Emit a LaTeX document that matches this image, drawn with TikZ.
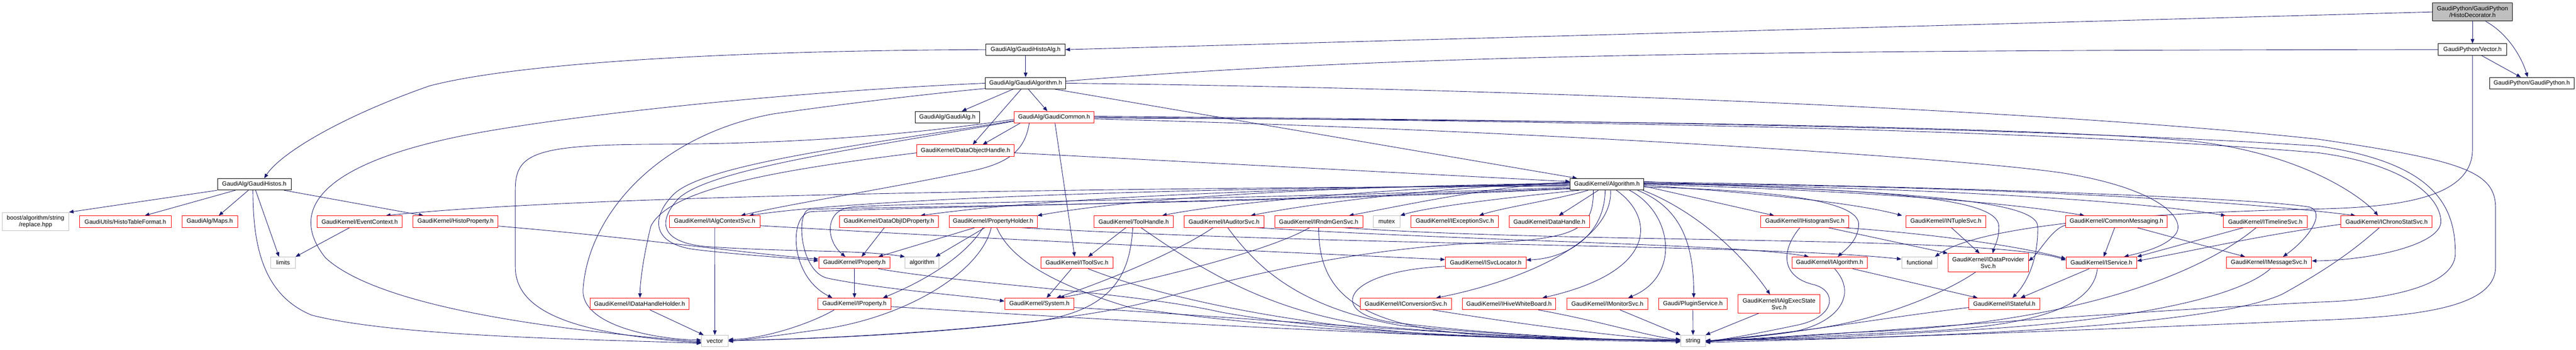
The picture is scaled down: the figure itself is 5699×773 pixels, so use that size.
\documentclass[tikz,border=0pt]{standalone}
\usepackage{fontspec}
\setmainfont{Liberation Sans}
\usetikzlibrary{arrows.meta}
\definecolor{eblue}{HTML}{191970}
\definecolor{gborder}{HTML}{BFBFBF}
\pgfdeclarelayer{bg}
\pgfsetlayers{bg,main}
\tikzset{
  base/.style={draw, line width=1.1pt, fill=white, inner sep=0pt, minimum height=25.5pt,
    font=\fontsize{13.3}{14.5}\selectfont, align=center, text=black},
  nb/.style={base, draw=black},
  nr/.style={base, draw=red},
  ng/.style={base, draw=gborder},
  nroot/.style={base, draw=black, fill=gborder},
  wd/.style={minimum width=#1pt},
  tall/.style={minimum height=40.5pt},
  lnk/.style={draw=eblue, line width=1pt, -{Triangle[length=10pt,width=8pt]}}
}
\begin{document}
\begin{tikzpicture}[x=1pt,y=-1pt]
\useasboundingbox (0,0) rectangle (5699,773);
% row 0-5
\node[nroot,wd=177,tall] (HD) at (5470,26.4) {GaudiPython/GaudiPython\\/HistoDecorator.h};
\node[nb,wd=175] (GHA) at (2269,109.7) {GaudiAlg/GaudiHistoAlg.h};
\node[nb,wd=151] (VEC) at (5470,109.5) {GaudiPython/Vector.h};
\node[nb,wd=178] (GALGM) at (2269,184) {GaudiAlg/GaudiAlgorithm.h};
\node[nb,wd=187] (GPY) at (5601,184) {GaudiPython/GaudiPython.h};
\node[nb,wd=143] (GALG) at (2096,259) {GaudiAlg/GaudiAlg.h};
\node[nr,wd=177] (GCOM) at (2332,259) {GaudiAlg/GaudiCommon.h};
\node[nr,wd=215] (DOH) at (2136,333) {GaudiKernel/DataObjectHandle.h};
\node[nb,wd=163] (GHIS) at (562.5,407.5) {GaudiAlg/GaudiHistos.h};
\node[nb,wd=162.5] (ALGO) at (3555,407.5) {GaudiKernel/Algorithm.h};
% row 6
\node[ng,wd=147,tall] (REPL) at (78.6,490) {boost/algorithm/string\\/replace.hpp};
\node[nr,wd=203] (HTF) at (277.3,490) {GaudiUtils/HistoTableFormat.h};
\node[nr,wd=123] (MAPS) at (464,490) {GaudiAlg/Maps.h};
\node[nr,wd=188.7] (EVC) at (795.7,490) {GaudiKernel/EventContext.h};
\node[nr,wd=188.4] (HPROP) at (1007.8,490) {GaudiKernel/HistoProperty.h};
\node[nr,wd=200.7] (IACS) at (1581.1,490) {GaudiKernel/IAlgContextSvc.h};
\node[nr,wd=219.3] (DOIDP) at (1966.5,490) {GaudiKernel/DataObjIDProperty.h};
\node[nr,wd=195] (PH) at (2197,490) {GaudiKernel/PropertyHolder.h};
\node[nr,wd=175] (TH) at (2508,490) {GaudiKernel/ToolHandle.h};
\node[nr,wd=177] (IAUD) at (2708,490) {GaudiKernel/IAuditorSvc.h};
\node[nr,wd=194.7] (IRND) at (2917.4,490) {GaudiKernel/IRndmGenSvc.h};
\node[ng,wd=59] (MUTEX) at (3067.8,490) {mutex};
\node[nr,wd=194.2] (IEXC) at (3218.4,490) {GaudiKernel/IExceptionSvc.h};
\node[nr,wd=177.3] (DH) at (3427.7,490) {GaudiKernel/DataHandle.h};
\node[nr,wd=194.8] (IHIST) at (3993,490) {GaudiKernel/IHistogramSvc.h};
\node[nr,wd=177.4] (INT) at (4305,490) {GaudiKernel/INTupleSvc.h};
\node[nr,wd=224.4] (CM) at (4682.4,490) {GaudiKernel/CommonMessaging.h};
\node[nr,wd=184.7] (ITL) at (5011.6,490) {GaudiKernel/ITimelineSvc.h};
\node[nr,wd=201.8] (ICS) at (5280,490) {GaudiKernel/IChronoStatSvc.h};
% row 7
\node[ng,wd=54.2] (LIM) at (626.2,581) {limits};
\node[nr,wd=158.2] (PROP) at (1890.2,581) {GaudiKernel/Property.h};
\node[ng,wd=74.9] (ALGM) at (2039.8,581) {algorithm};
\node[nr,wd=160] (ITS) at (2382.5,581) {GaudiKernel/IToolSvc.h};
\node[nr,wd=178.9] (ISL) at (3286.8,581) {GaudiKernel/ISvcLocator.h};
\node[nr,wd=166.7] (IALG) at (4047.7,581) {GaudiKernel/IAlgorithm.h};
\node[ng,wd=79.3] (FUNC) at (4246.7,581) {functional};
\node[nr,wd=177.8,tall] (IDP) at (4398.5,581) {GaudiKernel/IDataProvider\\Svc.h};
\node[nr,wd=156.4] (ISVC) at (4649.1,581) {GaudiKernel/IService.h};
\node[nr,wd=188.7] (IMSG) at (5019.8,581) {GaudiKernel/IMessageSvc.h};
% row 8
\node[nr,wd=218.9] (IDHH) at (1414.9,672) {GaudiKernel/IDataHandleHolder.h};
\node[nr,wd=162.2] (IPROP) at (1890.4,672) {GaudiKernel/IProperty.h};
\node[nr,wd=153.7] (SYS) at (2299.5,672) {GaudiKernel/System.h};
\node[nr,wd=201.8] (ICONV) at (3110.2,672) {GaudiKernel/IConversionSvc.h};
\node[nr,wd=207.1] (IHWB) at (3338.3,672) {GaudiKernel/IHiveWhiteBoard.h};
\node[nr,wd=178.9] (IMON) at (3556,672) {GaudiKernel/IMonitorSvc.h};
\node[nr,wd=151.3] (PLUG) at (3745.1,672) {Gaudi/PluginService.h};
\node[nr,wd=180.9,tall] (IAES) at (3936,672) {GaudiKernel/IAlgExecState\\Svc.h};
\node[nr,wd=157.5] (ISTATE) at (4434.2,672) {GaudiKernel/IStateful.h};
% row 9
\node[ng,wd=58.9] (VECTOR) at (1581.5,754) {vector};
\node[ng,wd=54.5] (STR) at (3745.5,754) {string};

\begin{pgfonlayer}{bg}
\fill[white] (0,0) rectangle (5699,773);
% top part
\draw[lnk] (HD.west) -- (GHA.east);
\draw[lnk] (HD.south) -- (VEC.north);
\draw[lnk] ([xshift=29pt]HD.south) .. controls (5550,75) and (5580,130) .. ([xshift=-9pt]GPY.north);
\draw[lnk] ([xshift=20pt]VEC.south) -- ([xshift=-24pt]GPY.north);
\draw[lnk] (VEC.west) .. controls (3500,112) and (2600,125) .. (1710,252) .. controls (1450,300) and (1300,480) .. (1290,640) .. controls (1285,720) and (1450,750) .. ([yshift=2pt]VECTOR.west);
\draw[lnk] (VEC.south) -- (5470,330) .. controls (5470,440) and (5300,458) .. (5130,462) .. controls (4700,472) and (4380,500) .. ([xshift=34pt]FUNC.north);
\draw[lnk] (GHA.south) -- (GALGM.north);
\draw[lnk] (GHA.west) .. controls (1600,112) and (1140,140) .. (950,190) .. controls (750,260) and (620,340) .. ([xshift=22pt]GHIS.north);
\draw[lnk] ([xshift=-28pt]GALGM.south) -- ([xshift=32pt]GALG.north);
\draw[lnk] ([xshift=-10pt]GALGM.south) -- ([xshift=16pt]DOH.north);
\draw[lnk] ([xshift=6pt]GALGM.south) -- ([xshift=-15pt]GCOM.north);
\draw[lnk] ([xshift=65pt]GALGM.south) -- ([xshift=-66pt]ALGO.north);
\draw[lnk] (GALGM.west) .. controls (1700,205) and (1200,262) .. (1000,305) .. controls (700,370) and (640,470) .. (720,570) .. controls (850,690) and (1300,735) .. ([yshift=-2pt]VECTOR.west);
\draw[lnk] (GALGM.east) .. controls (3300,195) and (4500,240) .. (5130,308) .. controls (5450,355) and (5521,380) .. (5521,460) -- (5521,590) .. controls (5521,680) and (5350,700) .. (5130,708) .. controls (4500,735) and (4000,752) .. ([yshift=-3pt]STR.east);
% GaudiCommon
\draw[lnk] ([xshift=-75pt]GCOM.south) -- ([xshift=38pt]DOH.north);
\draw[lnk] ([xshift=2pt]GCOM.south) -- ([xshift=-5pt]ITS.north);
\draw[lnk] ([yshift=-2pt]GCOM.east) .. controls (3500,265) and (4500,280) .. (4850,312) .. controls (5100,340) and (5230,440) .. ([xshift=-19pt]ICS.north);
\draw[lnk] (GCOM.east) .. controls (3500,268) and (4500,285) .. (5130,338) .. controls (5330,365) and (5400,440) .. (5400,490) .. controls (5400,540) and (5250,575) .. ([yshift=4pt]IMSG.east);
\draw[lnk] ([yshift=2pt]GCOM.east) .. controls (3500,266) and (4500,282) .. (5130,323) .. controls (5380,360) and (5432,450) .. (5432,560) .. controls (5432,640) and (5250,665) .. (5130,668) .. controls (4500,700) and (4000,748) .. (STR.east);
\draw[lnk] ([yshift=-4pt]GCOM.east) .. controls (3300,285) and (4300,345) .. (4560,382) .. controls (4770,415) and (4835,480) .. (4815,515) .. controls (4795,545) and (4740,558) .. ([xshift=50pt]ISVC.north);
\draw[lnk] ([yshift=-5pt]GCOM.west) .. controls (2000,300) and (1750,318) .. (1450,319) .. controls (1180,320) and (1140,340) .. (1140,420) -- (1140,590) .. controls (1140,700) and (1300,740) .. ([yshift=-4pt]VECTOR.west);
\draw[lnk] ([yshift=-8pt]GCOM.west) .. controls (1950,315) and (1560,360) .. (1490,430) .. controls (1440,480) and (1440,540) .. (1540,552) .. controls (1650,565) and (1750,570) .. ([yshift=4pt]PROP.west);
\draw[lnk] ([yshift=-9pt]GCOM.west) .. controls (1950,322) and (1570,370) .. (1500,440) .. controls (1455,490) and (1460,535) .. (1560,545) .. controls (1750,558) and (1900,552) .. (ALGM.north west);
\draw[lnk] ([xshift=-55pt]GCOM.south) .. controls (2268,330) and (2235,360) .. (2150,378) .. controls (1950,420) and (1750,450) .. ([xshift=58pt]IACS.north);
% DataObjectHandle
\draw[lnk] ([yshift=-5pt]DOH.east) -- ([yshift=6pt]ALGO.west);
\draw[lnk] ([yshift=-5pt]DOH.west) .. controls (1700,378) and (1480,420) .. (1440,500) .. controls (1425,560) and (1416,620) .. ([xshift=1pt]IDHH.north);
% GaudiHistos
\draw[lnk] (GHIS.south west) -- (REPL.north east);
\draw[lnk] ([xshift=-42pt]GHIS.south) -- ([xshift=43pt]HTF.north);
\draw[lnk] ([xshift=-13pt]GHIS.south) -- ([xshift=20pt]MAPS.north);
\draw[lnk] ([xshift=3pt]GHIS.south) -- ([xshift=-9pt]LIM.north);
\draw[lnk] ([xshift=66pt]GHIS.south) -- ([xshift=-71pt]HPROP.north);
\draw[lnk] ([xshift=-3pt]GHIS.south) .. controls (560,530) and (575,650) .. (690,697) .. controls (880,745) and (1300,750) .. ([yshift=-5pt]VECTOR.west);
\draw[lnk] ([xshift=-22pt]EVC.south) -- (LIM.north east);
\draw[lnk] ([yshift=-10pt]HPROP.east) .. controls (1400,525) and (1650,560) .. ([yshift=8pt]PROP.west);
% row 6 sources
\draw[lnk] ([xshift=-10pt]DOIDP.south) -- ([xshift=16pt]PROP.north);
\draw[lnk] ([xshift=-40pt]PH.south) -- ([xshift=53pt]PROP.north);
\draw[lnk] ([xshift=-18pt]PH.south) -- ([xshift=30pt]ALGM.north);
\draw[lnk] ([xshift=-22pt]PH.south) .. controls (2140,560) and (2060,615) .. ([xshift=63pt]IPROP.north);
\draw[lnk] ([xshift=-4pt]PH.south) .. controls (2170,600) and (2010,700) .. (1820,728) .. controls (1720,742) and (1660,750) .. ([yshift=-1pt]VECTOR.east);
\draw[lnk] ([xshift=8pt]PH.south) .. controls (2230,560) and (2300,620) .. (2500,680) .. controls (2900,740) and (3400,752) .. ([yshift=2pt]STR.west);
\draw[lnk] ([xshift=60pt]PH.south) .. controls (3000,545) and (3900,540) .. ([yshift=8pt]FUNC.west);
\draw[lnk] ([xshift=-17pt]TH.south) -- ([xshift=25pt]ITS.north);
\draw[lnk] ([xshift=-2pt]TH.south) .. controls (2500,610) and (2460,690) .. (2280,712) .. controls (2000,745) and (1700,752) .. ([yshift=1pt]VECTOR.east);
\draw[lnk] ([xshift=16pt]TH.south) .. controls (2650,590) and (2800,690) .. (3050,722) .. controls (3350,748) and (3600,752) .. (STR.west);
\draw[lnk] ([xshift=-24pt]IAUD.south) .. controls (2600,560) and (2450,620) .. ([xshift=38pt]SYS.north);
\draw[lnk] ([xshift=8pt]IAUD.south) .. controls (2780,590) and (2870,680) .. (3100,720) .. controls (3400,748) and (3600,752) .. (STR.west);
\draw[lnk] ([xshift=70pt]IAUD.south) .. controls (3300,535) and (3850,540) .. ([xshift=-46pt]IALG.north);
\draw[lnk] ([xshift=-20pt]IRND.south) .. controls (2800,560) and (2500,630) .. ([xshift=45pt]SYS.north);
\draw[lnk] (IRND.south) .. controls (2917,640) and (2990,725) .. (3300,742) .. controls (3500,750) and (3650,752) .. (STR.west);
\draw[lnk] ([xshift=53pt]IRND.south) .. controls (3500,540) and (4400,520) .. ([yshift=6pt]ISVC.west);
\draw[lnk] (IACS.south) -- (VECTOR.north);
\draw[lnk] ([yshift=-9pt]IACS.east) .. controls (2300,535) and (2900,560) .. ([yshift=7pt]ISL.west);
% Algorithm.h fan-out to the left
\draw[lnk] ([yshift=-4pt]ALGO.west) .. controls (2500,415) and (1300,430) .. ([xshift=58pt]EVC.north);
\draw[lnk] ([yshift=-2pt]ALGO.west) .. controls (2600,415) and (1900,440) .. ([xshift=76pt]IACS.north);
\draw[lnk] (ALGO.west) .. controls (2800,415) and (2300,440) .. ([xshift=70pt]DOIDP.north);
\draw[lnk] ([yshift=2pt]ALGO.west) .. controls (2900,412) and (2500,440) .. (PH.north east);
\draw[lnk] ([yshift=3pt]ALGO.west) .. controls (3100,412) and (2700,450) .. ([xshift=63pt]TH.north);
\draw[lnk] ([yshift=4pt]ALGO.west) .. controls (3200,412) and (2900,450) .. ([xshift=59pt]IAUD.north);
\draw[lnk] ([yshift=5pt]ALGO.west) .. controls (3300,412) and (3100,455) .. ([xshift=67pt]IRND.north);
\draw[lnk] ([xshift=20pt]ALGO.south west) .. controls (3300,440) and (3150,460) .. (MUTEX.north east);
\draw[lnk] ([xshift=40pt]ALGO.south west) .. controls (3450,440) and (3320,460) .. ([xshift=54pt]IEXC.north);
\draw[lnk] ([xshift=-19pt]ALGO.south) -- ([xshift=21pt]DH.north);
\draw[lnk] ([yshift=-7pt]ALGO.west) .. controls (2800,440) and (2000,448) .. (1885,458) .. controls (1825,462) and (1825,530) .. ([xshift=-20pt]PROP.north);
\draw[lnk] ([yshift=-9pt]ALGO.west) .. controls (2800,445) and (1950,460) .. (1795,468) .. controls (1745,472) and (1745,610) .. ([xshift=-49pt]IPROP.north);
\draw[lnk] ([yshift=-10pt]ALGO.west) .. controls (2800,450) and (1900,458) .. (1790,463) .. controls (1760,470) and (1770,600) .. (1830,615) .. controls (1950,640) and (2150,655) .. ([yshift=6pt]SYS.west);
\draw[lnk] ([xshift=-30pt]ALGO.south) .. controls (3525,500) and (3500,528) .. (3300,536) .. controls (3000,548) and (2750,610) .. (2550,665) .. controls (2350,720) and (1900,748) .. ([yshift=1pt]VECTOR.east);
% Algorithm.h fan-out downwards
\draw[lnk] ([xshift=-4pt]ALGO.south) .. controls (3551,510) and (3480,570) .. ([yshift=6pt]ISL.east);
\draw[lnk] ([xshift=8pt]ALGO.south) .. controls (3570,540) and (3350,625) .. ([xshift=67pt]ICONV.north);
\draw[lnk] ([xshift=21pt]ALGO.south) .. controls (3660,480) and (3670,600) .. ([xshift=74pt]IHWB.north);
\draw[lnk] ([xshift=50pt]ALGO.south) .. controls (3700,470) and (3720,610) .. ([xshift=46pt]IMON.north);
\draw[lnk] ([xshift=68pt]ALGO.south) .. controls (3720,460) and (3747,540) .. ([xshift=2pt]PLUG.north);
\draw[lnk] ([xshift=80pt]ALGO.south) .. controls (3760,470) and (3860,570) .. ([xshift=-20pt]IAES.north);
% Algorithm.h fan-out to the right
\draw[lnk] ([yshift=-6pt]ALGO.east) .. controls (3900,420) and (4110,440) .. (4112,495) .. controls (4112,530) and (4085,550) .. ([xshift=18pt]IALG.north);
\draw[lnk] ([yshift=-4pt]ALGO.east) -- ([xshift=-68pt]IHIST.north);
\draw[lnk] ([yshift=-2pt]ALGO.east) .. controls (3900,428) and (4100,448) .. ([xshift=-97pt]INT.north);
\draw[lnk] (ALGO.east) .. controls (4000,418) and (4400,440) .. ([xshift=-71pt]CM.north);
\draw[lnk] ([yshift=1pt]ALGO.east) .. controls (4200,413) and (4700,440) .. ([xshift=-88pt]ITL.north);
\draw[lnk] ([yshift=2pt]ALGO.east) .. controls (4300,410) and (4900,438) .. ([xshift=-69pt]ICS.north);
\draw[lnk] ([yshift=3pt]ALGO.east) .. controls (4200,420) and (4420,440) .. (4422,500) .. controls (4423,530) and (4412,545) .. ([xshift=10pt]IDP.north);
\draw[lnk] ([yshift=5pt]ALGO.east) .. controls (4300,412) and (5000,438) .. (5110,458) .. controls (5145,470) and (5110,525) .. ([xshift=31pt]IMSG.north);
\draw[lnk] ([yshift=6pt]ALGO.east) .. controls (4200,425) and (4505,440) .. (4508,500) .. controls (4510,580) and (4480,630) .. ([xshift=18pt]ISTATE.north);
% right side interfaces
\draw[lnk] ([xshift=51pt]IHIST.south) -- (IDP.north west);
\draw[lnk] ([xshift=84pt]IHIST.south) .. controls (4250,515) and (4450,540) .. ([yshift=9pt]ISVC.west);
\draw[lnk] ([xshift=-11pt]IHIST.south) .. controls (3935,560) and (3945,615) .. (4015,630) .. controls (4065,645) and (4060,700) .. (3980,718) .. controls (3900,735) and (3820,750) .. ([yshift=-1pt]STR.east);
\draw[lnk] ([xshift=12pt]INT.south) -- ([xshift=-19pt]IDP.north);
\draw[lnk] ([xshift=-4pt]CM.south) -- ([xshift=5pt]ISVC.north);
\draw[lnk] ([xshift=45pt]CM.south) -- ([xshift=-53pt]IMSG.north);
\draw[lnk] ([yshift=-8pt]CM.west) .. controls (4540,505) and (4510,560) .. ([yshift=4pt]IDP.east);
\draw[lnk] ([xshift=-48pt]ITL.south) -- (ISVC.north east);
\draw[lnk] ([xshift=-20pt]ITL.south) .. controls (4850,620) and (4550,720) .. (4100,735) .. controls (3950,744) and (3850,750) .. ([yshift=-2pt]STR.east);
\draw[lnk] ([yshift=-6pt]ICS.west) .. controls (5000,520) and (4850,555) .. ([yshift=4pt]ISVC.east);
\draw[lnk] ([xshift=-16pt]ICS.south) .. controls (5200,560) and (5140,600) .. (5050,650) .. controls (4900,720) and (4300,748) .. ([yshift=1pt]STR.east);
\draw[lnk] ([xshift=11pt]IALG.south) .. controls (4110,650) and (4070,715) .. (3960,735) .. controls (3880,746) and (3810,751) .. (STR.east);
\draw[lnk] ([xshift=51pt]IALG.south) -- ([xshift=-59pt]ISTATE.north);
\draw[lnk] ([xshift=-28pt]IDP.south) .. controls (4300,650) and (4150,712) .. (3990,730) .. controls (3900,742) and (3820,750) .. (STR.east);
\draw[lnk] ([xshift=-27pt]ISVC.south) -- ([xshift=36pt]ISTATE.north);
\draw[lnk] ([xshift=-9pt]ISVC.south) .. controls (4630,680) and (4500,725) .. (4200,735) .. controls (4000,745) and (3850,752) .. (STR.east);
\draw[lnk] ([xshift=3pt]IMSG.south) .. controls (4950,660) and (4700,710) .. (4350,730) .. controls (4100,745) and (3900,752) .. ([yshift=1pt]STR.east);
\draw[lnk] ([yshift=-8pt]ISTATE.west) .. controls (4150,705) and (3900,748) .. (STR.east);
% row 7/8 to bottom
\draw[lnk] (PROP.south) -- (IPROP.north);
\draw[lnk] ([xshift=53pt]PROP.south) .. controls (2150,630) and (2500,645) .. (2700,690) .. controls (3000,745) and (3500,752) .. ([yshift=3pt]STR.west);
\draw[lnk] ([yshift=-6pt]IPROP.east) .. controls (2400,705) and (3200,750) .. ([yshift=-2pt]STR.west);
\draw[lnk] ([xshift=-45pt]IPROP.south) .. controls (1800,712) and (1700,748) .. ([yshift=3pt]VECTOR.east);
\draw[lnk] ([xshift=-12pt]ITS.south) -- ([xshift=16pt]SYS.north);
\draw[lnk] ([xshift=25pt]ITS.south) .. controls (2600,670) and (2950,735) .. (3300,745) .. controls (3500,750) and (3650,752) .. (STR.west);
\draw[lnk] ([yshift=-8pt]SYS.east) .. controls (2800,705) and (3300,750) .. (STR.west);
\draw[lnk] ([yshift=-8pt]ISL.west) .. controls (2960,600) and (2930,700) .. (3100,715) .. controls (3350,745) and (3600,752) .. (STR.west);
\draw[lnk] ([xshift=60pt]ICONV.south) .. controls (3350,715) and (3600,748) .. ([yshift=2pt]STR.west);
\draw[lnk] ([xshift=65pt]IHWB.south) .. controls (3550,712) and (3650,745) .. ([yshift=3pt]STR.west);
\draw[lnk] ([xshift=28pt]IMON.south) -- (STR.north west);
\draw[lnk] (PLUG.south) -- (STR.north);
\draw[lnk] ([xshift=-45pt]IAES.south) -- (STR.north east);
\draw[lnk] ([xshift=23pt]IDHH.south) -- ([xshift=-25pt]VECTOR.north);
\end{pgfonlayer}
\end{tikzpicture}
\end{document}
